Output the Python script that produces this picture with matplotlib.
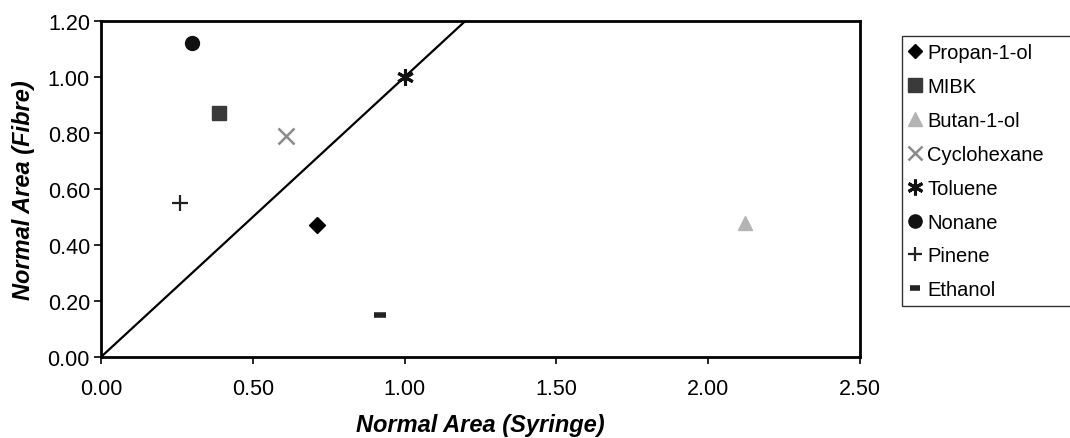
import numpy as np
import matplotlib
matplotlib.use("Agg")
from matplotlib import pyplot as plt

plt.rcParams['font.family'] = ['Liberation Sans', 'DejaVu Sans']

# normalised peak areas: syringe injection (x) vs fibre (y)
solvents = ['Propan-1-ol', 'MIBK', 'Butan-1-ol', 'Cyclohexane',
            'Toluene', 'Nonane', 'Pinene', 'Ethanol']
syringe = [0.71, 0.39, 2.12, 0.61, 1.00, 0.30, 0.26, 0.92]
fibre = [0.47, 0.87, 0.48, 0.79, 1.00, 1.12, 0.55, 0.15]

x_ticks = [0.0, 0.5, 1.0, 1.5, 2.0, 2.5]
y_ticks = [0.0, 0.2, 0.4, 0.6, 0.8, 1.0, 1.2]

# marker style per solvent
styles = {
    'Propan-1-ol': dict(marker='D', color='black', ms=8),
    'MIBK': dict(marker='s', color='#3a3a3a', ms=10),
    'Butan-1-ol': dict(marker='^', color='#b4b4b4', ms=10),
    'Cyclohexane': dict(marker='x', color='#8a8a8a', ms=11, mew=1.8),
    'Toluene': dict(marker=(6, 2, 0), color='#111111', ms=12, mew=2.2),
    'Nonane': dict(marker='o', color='#111111', ms=10),
    'Pinene': dict(marker='+', color='#222222', ms=11, mew=1.6),
    'Ethanol': dict(marker='_', color='#222222', ms=8, mew=4),
}

fig = plt.figure(figsize=(10.7, 4.39), dpi=100)
ax = fig.add_axes([101 / 1070, 1 - 358 / 439, (860 - 101) / 1070, (358 - 22) / 439])

# 1:1 line
line_x = np.array([0.0, 1.2])
ax.plot(line_x, line_x, color='black', lw=1.6, zorder=1)

for name, xs, ys in zip(solvents, syringe, fibre):
    st = styles[name]
    ax.plot([xs], [ys], linestyle='none', marker=st['marker'], color=st['color'],
            markersize=st['ms'], markeredgewidth=st.get('mew', 1.0),
            label=name, zorder=3)

ax.set_xlim(0, 2.5)
ax.set_ylim(0, 1.2)
ax.set_xticks(x_ticks)
ax.set_yticks(y_ticks)
ax.set_xticklabels([f'{v:.2f}' for v in x_ticks])
ax.set_yticklabels([f'{v:.2f}' for v in y_ticks])
ax.tick_params(axis='both', labelsize=15.5, length=5, width=1.2, direction='out',
               colors='black')
ax.tick_params(axis='x', pad=10)
ax.tick_params(axis='y', pad=3)
for sp in ax.spines.values():
    sp.set_linewidth(2)

ax.set_xlabel('Normal Area (Syringe)', fontsize=17, fontweight='bold',
              fontstyle='italic', labelpad=10.5)
ax.set_ylabel('Normal Area (Fibre)', fontsize=17, fontweight='bold',
              fontstyle='italic', labelpad=9)

# legend box runs past the right edge of the figure
leg = fig.legend(loc='upper left', bbox_to_anchor=(902 / 1070, 0, 0.3, 1 - 37 / 439),
                 bbox_transform=fig.transFigure, mode='expand', fontsize=14.5,
                 frameon=True, fancybox=False, edgecolor='black', handlelength=0.6,
                 handletextpad=0.3, borderpad=0.35, labelspacing=0.74,
                 borderaxespad=0, markerscale=0.95)
leg.get_frame().set_linewidth(1)

fig.savefig('out.png', dpi=100)
